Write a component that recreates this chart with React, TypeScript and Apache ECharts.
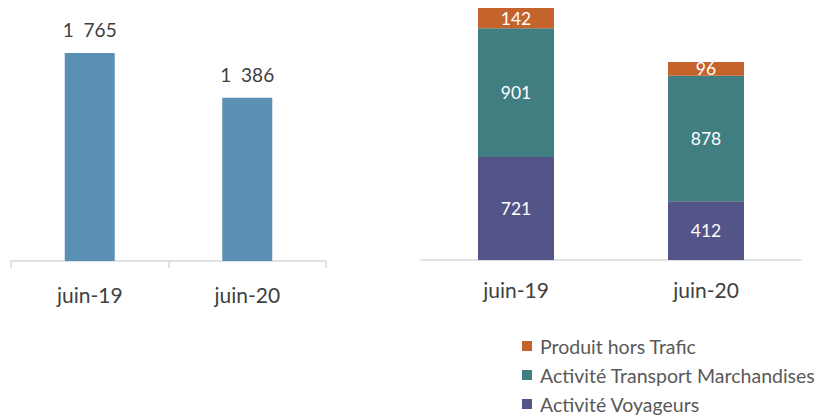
import React, { useEffect, useRef } from "react";
import * as echarts from "echarts";

const categories = ["juin-19", "juin-20"];
const totalValues = [1765, 1386];
const voyageurs = [721, 412];
const marchandises = [901, 878];
const horsTrafic = [142, 96];
const seriesNames = ["Produit hors Trafic", "Activité Transport Marchandises", "Activité Voyageurs"];

const FONT = "Lato, 'Open Sans', sans-serif";

export default function App() {
  const ref = useRef<HTMLDivElement>(null);
  useEffect(() => {
    if (!ref.current) return;
    const chart = echarts.init(ref.current, null, { renderer: "svg" });
    const fmt = (v: number) => String(v).replace(/\B(?=(\d{3})+(?!\d))/g, "\u00A0\u00A0");
    chart.setOption({
      animation: false,
      textStyle: { fontFamily: FONT },
      legend: {
        orient: "vertical",
        left: 517,
        top: 331,
        height: 120,
        itemWidth: 10,
        itemHeight: 10,
        itemGap: 9,
        icon: "rect",
        data: seriesNames,
        textStyle: { fontSize: 19.5, color: "#595959", fontFamily: FONT, padding: [0, 0, 0, 3] },
      },
      grid: [
        { left: 11, right: 494, top: 25.4, bottom: 158 },
        { left: 421, right: 19, top: 2.8, bottom: 159 },
      ],
      xAxis: [
        {
          type: "category",
          gridIndex: 0,
          data: categories,
          axisLine: { lineStyle: { color: "#d9d9d9", width: 1.5 } },
          axisTick: { show: true, length: 7, alignWithLabel: false, lineStyle: { color: "#d9d9d9", width: 1.5 } },
          axisLabel: { fontSize: 21, color: "#404040", margin: 23, fontFamily: FONT },
        },
        {
          type: "category",
          gridIndex: 1,
          data: categories,
          axisLine: { lineStyle: { color: "#d9d9d9", width: 1.5 } },
          axisTick: { show: false },
          axisLabel: { fontSize: 21, color: "#404040", margin: 19, fontFamily: FONT },
        },
      ],
      yAxis: [
        { type: "value", gridIndex: 0, min: 0, max: 2000, show: false },
        { type: "value", gridIndex: 1, min: 0, max: 1800, show: false },
      ],
      series: [
        {
          type: "bar",
          xAxisIndex: 0,
          yAxisIndex: 0,
          data: totalValues,
          barWidth: 50,
          itemStyle: { color: "#5B90B5" },
          label: {
            show: true,
            position: "top",
            distance: 14,
            fontSize: 19,
            color: "#404040",
            fontFamily: FONT,
            formatter: (p: any) => fmt(p.value),
          },
        },
        {
          name: seriesNames[2],
          type: "bar",
          stack: "s",
          xAxisIndex: 1,
          yAxisIndex: 1,
          data: voyageurs,
          barWidth: 76,
          itemStyle: { color: "#535488" },
          label: { show: true, position: "inside", fontSize: 17.5, color: "#ffffff", fontFamily: FONT },
        },
        {
          name: seriesNames[1],
          type: "bar",
          stack: "s",
          xAxisIndex: 1,
          yAxisIndex: 1,
          data: marchandises,
          barWidth: 76,
          itemStyle: { color: "#417E82" },
          label: { show: true, position: "inside", fontSize: 17.5, color: "#ffffff", fontFamily: FONT },
        },
        {
          name: seriesNames[0],
          type: "bar",
          stack: "s",
          xAxisIndex: 1,
          yAxisIndex: 1,
          data: horsTrafic,
          barWidth: 76,
          itemStyle: { color: "#C5632C" },
          label: { show: true, position: "inside", fontSize: 17.5, color: "#ffffff", fontFamily: FONT },
        },
      ],
    });
    return () => chart.dispose();
  }, []);
  return <div ref={ref} style={{ width: 820, height: 419, position: "absolute", left: 0, top: 0 }} />;
}
